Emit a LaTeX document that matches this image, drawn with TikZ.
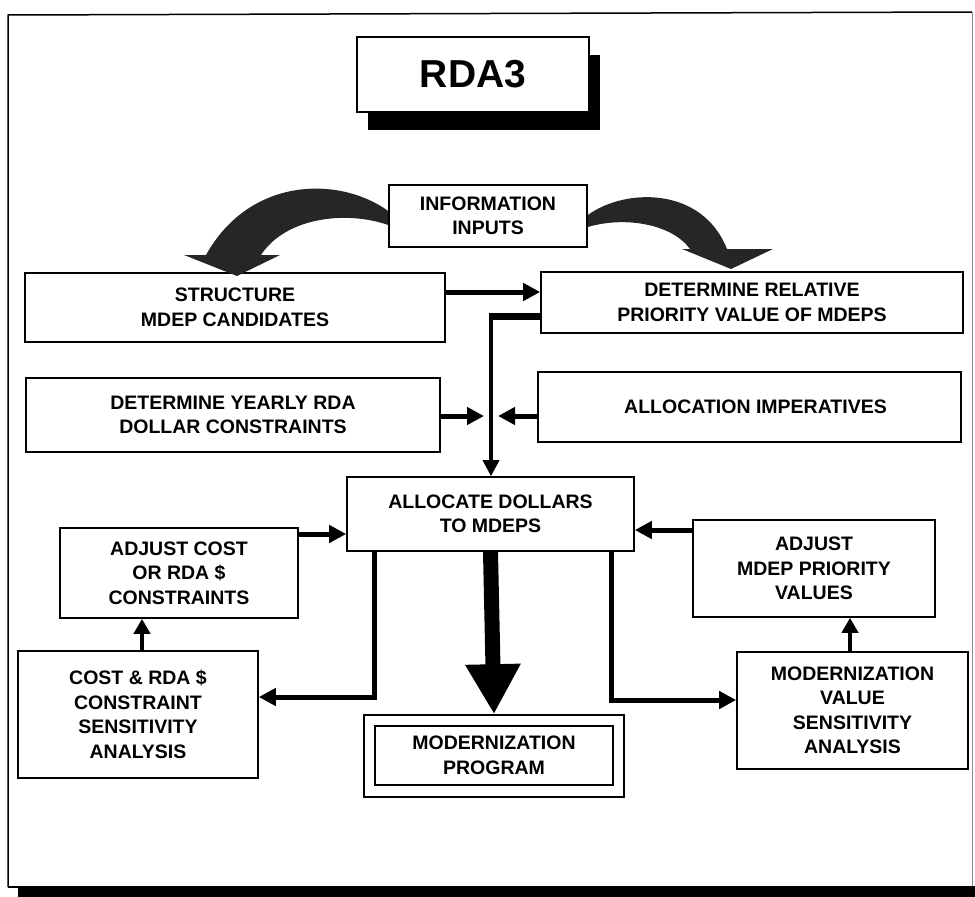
\documentclass[tikz,border=0pt]{standalone}
\usepackage{fontspec}
\setmainfont{Liberation Sans}
\usetikzlibrary{arrows.meta,shadows}
\newcommand\boxfont{\fontsize{19.5}{24.5}\selectfont\bfseries}
\newcommand\titlefont{\fontsize{39}{40}\selectfont\bfseries}

\begin{document}
\begin{tikzpicture}[x=1pt,y=-1pt,
  box/.style={draw, line width=1.6pt, fill=white, inner sep=0pt, align=center, font=\boxfont},
  size/.style 2 args={minimum width=#1pt, minimum height=#2pt},
  flow/.style={line width=5pt, -{Triangle[length=17pt,width=17pt]}},
  feed/.style={line width=3.5pt, -{Triangle[length=16pt,width=16pt]}},
  lift/.style={line width=4.5pt, -{Triangle[length=15pt,width=16pt]}},
  bigflow/.style={line width=15pt, -{Triangle[length=50pt,width=52pt]}},
  wire/.style={line width=7pt},
  curl/.style={fill=black!85},
]
\useasboundingbox (0,0) rectangle (975,897);

% outer frame with heavy base
\fill (18,886) rectangle (975,897);
\draw[line width=1.5pt] (8,887) -- (8,15) -- (972,12);
\draw[line width=0.8pt, black!45] (972,12) -- (972,887);
\draw[line width=1.5pt] (8,887) -- (975,887);

% title
\node[box, size={232}{75}, font=\titlefont,
      drop shadow={shadow xshift=11pt, shadow yshift=-18pt, opacity=1, fill=black}]
      (title) at (473,74.5) {RDA3};

% boxes
\node[box, size={198}{62}]  (info)   at (488,216)     {INFORMATION\\INPUTS};
\node[box, size={420}{69}]  (struct) at (235,307.5)   {STRUCTURE\\MDEP CANDIDATES};
\node[box, size={422}{61}]  (det)    at (752,302.5)   {DETERMINE RELATIVE\\PRIORITY VALUE OF MDEPS};
\node[box, size={414}{74}]  (yearly) at (233,415)     {DETERMINE YEARLY RDA\\DOLLAR CONSTRAINTS};
\node[box, size={423}{70}]  (imper)  at (749.5,407)   {\hspace*{12pt}ALLOCATION IMPERATIVES};
\node[box, size={287}{74}]  (alloc)  at (490.5,514)   {ALLOCATE DOLLARS\\TO MDEPS};
\node[box, size={238}{90}]  (adjc)   at (179,573)     {ADJUST COST\\OR RDA \$\\CONSTRAINTS};
\node[box, size={242}{97}]  (adjm)   at (814,568.5)   {ADJUST\\MDEP PRIORITY\\VALUES};
\node[box, size={240}{127}] (costs)  at (138,714.5)   {COST \& RDA \$\\CONSTRAINT\\SENSITIVITY\\ANALYSIS};
\node[box, size={231}{117}] (modval) at (852.5,710.5) {MODERNIZATION\\VALUE\\SENSITIVITY\\ANALYSIS};
\node[box, size={260}{82}]  (prog)   at (494,756)     {};
\node[box, size={238}{59}]  (progin) at (494,755.5)   {MODERNIZATION\\PROGRAM};

% curved feeds out of the information inputs
\path[curl] (info.west |- 0,211) .. controls (340,176) and (250,176) .. (206,255)
  -- (184,255) -- (237,276) -- (280,255) -- (261,255)
  .. controls (285,218) and (345,210) .. (info.west |- 0,225) -- cycle;
\path[curl] (info.east |- 0,215) .. controls (625,188) and (702,186) .. (727,249)
  -- (773,249) -- (731,269) -- (682,249) -- (690,249)
  .. controls (672,224) and (625,216) .. (info.east |- 0,227) -- cycle;

% connector points
\coordinate (r1) at (0,292);
\coordinate (vx) at (491,316);
\coordinate (m1) at (484,416);
\coordinate (m2) at (498,416);
\coordinate (lx) at (374,697);
\coordinate (rx) at (611,700);
\coordinate (a1) at (0,534);
\coordinate (a2) at (0,530);
\coordinate (u1) at (142,0);
\coordinate (u2) at (850,0);

% connectors
\draw[flow] (struct.east |- r1) -- (det.west |- r1);
\draw[wire] (det.west |- vx) -- ([xshift=-1.75pt]vx);
\draw[feed] ([yshift=3.5pt]vx) -- (vx |- alloc.north);
\draw[flow] (yearly.east |- m1) -- (m1);
\draw[flow] (imper.west |- m2) -- (m2);
\draw[bigflow] (alloc.south) -- (prog.north);
\draw[flow] (alloc.south -| lx) |- (costs.east |- lx);
\draw[flow] (alloc.south -| rx) |- (modval.west |- rx);
\draw[flow] (adjc.east |- a1) -- (alloc.west |- a1);
\draw[flow] (adjm.west |- a2) -- (alloc.east |- a2);
\draw[lift] (costs.north -| u1) -- (adjc.south -| u1);
\draw[lift] (modval.north -| u2) -- (adjm.south -| u2);
\end{tikzpicture}
\end{document}
